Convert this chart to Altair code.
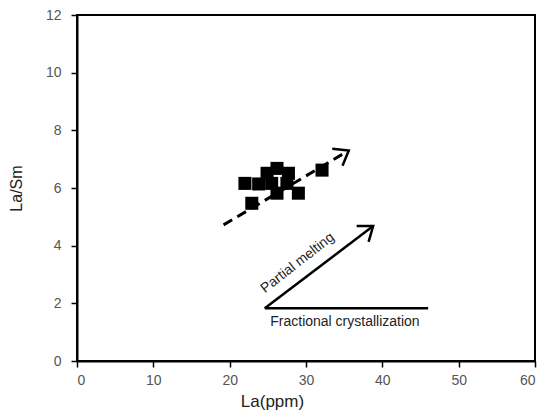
import altair as alt
import pandas as pd

# sample data (La ppm, La/Sm)
la = [22.0, 23.8, 22.9, 24.9, 26.2, 27.7, 25.5, 27.5, 26.2, 29.0, 32.1]
la_sm = [6.16, 6.14, 5.47, 6.51, 6.68, 6.51, 6.16, 6.16, 5.82, 5.82, 6.62]

# trend arrow (dashed)
trend_x = [19.2, 35.6]
trend_y = [4.72, 7.3]
# partial melting arrow
pm_x = [24.6, 38.8]
pm_y = [1.83, 4.68]
# fractional crystallization line
fc_x = [24.6, 46.0]
fc_y = [1.83, 1.83]

labels = ["Partial melting", "Fractional crystallization"]
label_x = [28.9, 35.1]
label_y = [3.4, 1.36]
label_angle = [322, 0]

FONT = "Liberation Sans"
xs = alt.Scale(domain=[0, 60], nice=False)
ys = alt.Scale(domain=[0, 12], nice=False)

pts = pd.DataFrame({"La": la, "LaSm": la_sm})

base_x = alt.X("x:Q", scale=xs)
base_y = alt.Y("y:Q", scale=ys)

points = alt.Chart(pts).mark_square(size=170, color="black", opacity=1).encode(
    x=alt.X("La:Q", scale=xs, title="La(ppm)",
            axis=alt.Axis(values=[0, 10, 20, 30, 40, 50, 60], grid=False)),
    y=alt.Y("LaSm:Q", scale=ys, title="La/Sm",
            axis=alt.Axis(values=[0, 2, 4, 6, 8, 10, 12], grid=False)),
)

trend = alt.Chart(pd.DataFrame({"x": trend_x, "y": trend_y})).mark_line(
    color="black", strokeWidth=3, strokeDash=[10, 6]).encode(x=base_x, y=base_y)
pm = alt.Chart(pd.DataFrame({"x": pm_x, "y": pm_y})).mark_line(
    color="black", strokeWidth=2.5).encode(x=base_x, y=base_y)
fc = alt.Chart(pd.DataFrame({"x": fc_x, "y": fc_y})).mark_line(
    color="black", strokeWidth=2.5).encode(x=base_x, y=base_y)

heads = pd.DataFrame({"x": [trend_x[1], pm_x[1]], "y": [trend_y[1], pm_y[1]],
                      "ang": [329, 323]})
arrowheads = alt.Chart(heads).mark_point(
    shape="M -1 -0.75 L 0 0 L -1 0.75", filled=False, color="black",
    strokeWidth=2.5, size=700, opacity=1, strokeCap="butt", strokeJoin="miter").encode(
    x=base_x, y=base_y, angle=alt.Angle("ang:Q", scale=None))

lab = pd.DataFrame({"t": labels, "x": label_x, "y": label_y, "a": label_angle})
texts = alt.Chart(lab).mark_text(font=FONT, fontSize=14, color="#222").encode(
    x=base_x, y=base_y, text="t:N", angle=alt.Angle("a:Q", scale=None))

chart = alt.layer(points, trend, pm, fc, arrowheads, texts).properties(
    width=458, height=346,
    autosize=alt.AutoSizeParams(type="none"),
    padding={"left": 77, "top": 15, "right": 9, "bottom": 54},
).configure_view(stroke="black", strokeWidth=2).configure_axis(
    domainColor="black", domainWidth=2, tickColor="black", tickWidth=1.5,
    tickSize=6, labelFont=FONT, labelFontSize=14, labelColor="#555",
    titleFont=FONT, titleFontWeight="normal", titleColor="#222",
).configure_axisX(titleFontSize=17, labelPadding=6, titlePadding=6, titleX=195,
                  titleAnchor="start", titleAlign="center"
).configure_axisY(titleFontSize=16, labelPadding=10, titleX=-61, titleBaseline="middle")

chart.save("out.html", embed_options={"renderer": "svg", "actions": False})
